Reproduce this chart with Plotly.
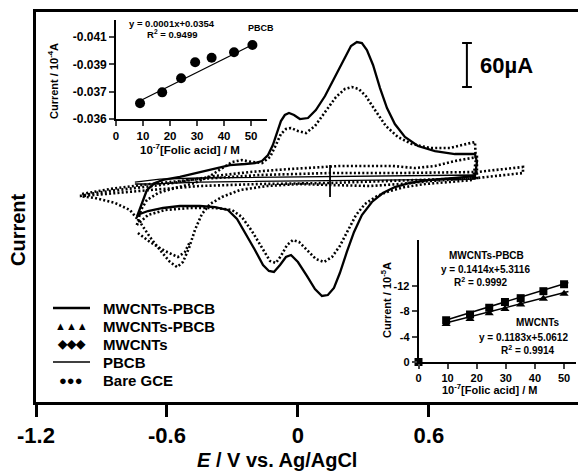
import plotly.graph_objects as go

# ---------------- data: main CV curves (E in V vs Ag/AgCl, current in µA) ----------------
E_mwpbcb = [-0.738,-0.719,-0.692,-0.655,-0.618,-0.541,-0.463,-0.380,-0.312,-0.243,-0.197,-0.165,-0.137,-0.115,-0.096,-0.078,-0.060,-0.041,-0.018,0.009,0.046,0.082,0.124,0.169,0.211,0.243,0.270,0.293,0.316,0.344,0.376,0.408,0.444,0.490,0.550,0.628,0.719,0.811,0.820,0.811,
            0.719,0.605,0.513,0.444,0.389,0.339,0.293,0.257,0.224,0.192,0.165,0.137,0.110,0.078,0.041,0.000,-0.032,-0.055,-0.082,-0.110,-0.133,-0.160,-0.197,-0.238,-0.279,-0.321,-0.380,-0.449,-0.541,-0.618,-0.687,-0.724,-0.738]
I_mwpbcb = [-49.1,-32.7,-12.3,-2.7,1.4,5.5,10.9,16.4,21.8,23.2,24.5,27.3,35.5,49.1,65.5,81.8,90.0,92.7,90.0,84.5,85.9,96.8,115.9,141.8,167.7,184.1,189.5,188.2,178.6,158.2,126.8,99.5,77.7,60.0,47.7,40.9,36.8,36.8,25.9,6.8,
            4.1,1.4,-2.7,-8.2,-16.4,-28.6,-46.4,-69.5,-96.8,-125.5,-145.9,-155.5,-156.8,-147.3,-129.5,-110.5,-100.9,-103.6,-114.5,-124.1,-122.7,-114.5,-94.1,-72.3,-51.8,-39.5,-35.5,-34.1,-34.1,-36.8,-40.9,-45.0,-49.1]

E_mwpbcb_tri = [-0.738,-0.719,-0.692,-0.641,-0.563,-0.472,-0.403,-0.348,-0.302,-0.257,-0.211,-0.165,-0.128,-0.101,-0.078,-0.055,-0.032,0.000,0.037,0.078,0.124,0.174,0.215,0.247,0.279,0.311,0.353,0.403,0.458,0.522,0.605,0.696,0.811,0.815,0.802,
                0.696,0.582,0.490,0.421,0.362,0.307,0.266,0.229,0.192,0.156,0.119,0.082,0.041,0.005,-0.023,-0.050,-0.078,-0.101,-0.128,-0.165,-0.211,-0.257,-0.302,-0.380,-0.495,-0.609,-0.687,-0.738]
I_mwpbcb_tri = [-60.0,-39.5,-25.9,-16.4,-9.5,-2.7,6.8,17.7,25.9,28.6,25.9,24.5,32.7,49.1,64.1,70.9,72.3,68.2,65.5,75.0,94.1,114.5,125.5,128.2,125.5,115.9,96.8,75.0,60.0,50.5,45.0,45.0,53.2,28.6,1.4,
                -1.4,-4.1,-8.2,-13.6,-20.5,-31.4,-46.4,-66.8,-88.6,-103.6,-110.5,-106.4,-94.1,-83.2,-80.5,-87.3,-102.3,-111.8,-109.1,-91.4,-68.2,-49.1,-39.5,-36.8,-36.8,-39.5,-46.4,-60.0]

E_mwcnt = [-0.999,-0.930,-0.861,-0.747,-0.632,-0.518,-0.380,-0.220,-0.037,0.192,0.435,0.536,0.628,0.719,0.820,0.820,
           0.605,0.467,0.330,0.147,0.009,-0.142,-0.266,-0.348,-0.403,-0.440,-0.472,-0.499,-0.527,-0.554,-0.586,-0.632,-0.678,-0.724,-0.770,-0.838,-0.930,-0.999,
           None,-0.733,-0.678,-0.609,-0.550,-0.518,-0.495]
I_mwcnt = [-20.5,-16.4,-13.6,-9.5,-5.5,0.0,6.8,12.3,16.4,20.5,20.5,17.7,20.5,27.3,32.7,4.1,
           0.0,-4.1,-6.8,-5.5,-4.1,-6.8,-12.3,-21.8,-31.4,-45.0,-66.8,-91.4,-110.5,-117.3,-110.5,-94.1,-76.4,-55.9,-39.5,-30.0,-23.2,-20.5,
           None,-70.9,-83.2,-95.5,-103.6,-96.8,-83.2]

E_pbcb = [-0.747,-0.632,-0.449,0.009,0.467,0.811,0.811,0.467,0.009,-0.449,-0.678,-0.747]
I_pbcb = [-1.4,2.7,4.1,5.5,6.8,8.2,2.7,1.4,0.0,-1.4,-4.1,-4.1]

E_bare = [-0.989,-0.861,-0.678,-0.449,-0.174,0.147,0.467,0.820,1.031,1.031,0.820,0.467,0.147,-0.174,-0.449,-0.678,-0.861,-0.989]
I_bare = [-17.7,-10.9,-4.1,2.7,8.2,10.9,10.9,12.3,19.1,10.9,4.1,0.0,-2.7,-4.1,-6.8,-12.3,-17.7,-20.5]

x_ticks = [-1.2, -0.6, 0, 0.6]
x_ticktext = ["-1.2", "-0.6", "0", "0.6"]

# ---------------- inset 1 (PBCB) ----------------
conc_pbcb = [8.9, 17.1, 24.1, 29.3, 35.4, 43.7, 50.5]
cur_pbcb = [-0.03615, -0.03695, -0.03798, -0.03915, -0.03948, -0.03988, -0.04041]
fit_pbcb_x = [9.5, 50.3]
fit_pbcb_y = [-0.03639, -0.04041]
ins1_yticks = [-0.041, -0.039, -0.037, -0.035]
ins1_yticktext = ["-0.041", "-0.039", "-0.037", "-0.036"]
ins1_xticks = [0, 10, 20, 30, 40, 50]

# ---------------- inset 2 ----------------
conc2 = [9.5, 17.7, 24.3, 29.7, 35.1, 42.9, 50.0]
cur_mwpbcb = [-6.6, -7.5, -8.6, -9.5, -10.1, -11.2, -12.3]
cur_mwcnt = [-6.0, -6.8, -7.7, -8.4, -9.1, -10.0, -10.8]
fit2a_x = [9.0, 51.5]
fit2a_y = [-6.58, -12.59]
fit2b_x = [9.0, 51.5]
fit2b_y = [-6.13, -11.15]
ins2_yticks = [0, -4, -8, -12]
ins2_yticktext = ["0", "-4", "-8", "-12"]

FONT = "Arial, Liberation Sans, sans-serif"

def X(px):
    return (px - 36) / 542

def Y(py):
    return (402 - py) / 390

fig = go.Figure()

dotline = dict(color="black", width=2.6, dash="2px,2.2px")

fig.add_trace(go.Scatter(x=E_bare, y=I_bare, mode="lines", line=dotline, name="Bare GCE", xaxis="x", yaxis="y"))
fig.add_trace(go.Scatter(x=E_pbcb, y=I_pbcb, mode="lines", line=dict(color="black", width=1.3), name="PBCB"))
fig.add_trace(go.Scatter(x=E_mwcnt, y=I_mwcnt, mode="lines", line=dotline, name="MWCNTs", connectgaps=False))
fig.add_trace(go.Scatter(x=E_mwpbcb_tri, y=I_mwpbcb_tri, mode="lines", line=dotline, name="MWCNTs-PBCB (dotted)"))
fig.add_trace(go.Scatter(x=E_mwpbcb, y=I_mwpbcb, mode="lines", line=dict(color="black", width=2.3), name="MWCNTs-PBCB"))

# inset 1
fig.add_trace(go.Scatter(x=fit_pbcb_x, y=fit_pbcb_y, mode="lines", line=dict(color="black", width=1.3),
                         xaxis="x2", yaxis="y2", showlegend=False))
fig.add_trace(go.Scatter(x=conc_pbcb, y=cur_pbcb, mode="markers", marker=dict(color="black", size=10),
                         xaxis="x2", yaxis="y2", showlegend=False))
# inset 2
fig.add_trace(go.Scatter(x=fit2a_x, y=fit2a_y, mode="lines", line=dict(color="black", width=1.6),
                         xaxis="x3", yaxis="y3", showlegend=False))
fig.add_trace(go.Scatter(x=fit2b_x, y=fit2b_y, mode="lines", line=dict(color="black", width=1.6),
                         xaxis="x3", yaxis="y3", showlegend=False))
fig.add_trace(go.Scatter(x=conc2, y=cur_mwpbcb, mode="markers", marker=dict(color="black", size=8, symbol="square"),
                         xaxis="x3", yaxis="y3", showlegend=False))
fig.add_trace(go.Scatter(x=conc2, y=cur_mwcnt, mode="markers", marker=dict(color="black", size=8, symbol="triangle-up"),
                         xaxis="x3", yaxis="y3", showlegend=False))
fig.add_trace(go.Scatter(x=[0], y=[0], mode="markers", marker=dict(color="black", size=8, symbol="square"),
                         xaxis="x3", yaxis="y3", showlegend=False, cliponaxis=False))

tickfont_main = dict(family=FONT, size=22, color="black", weight="bold")
tf_small = dict(family=FONT, size=11.5, color="black", weight="bold")

fig.update_layout(
    width=580, height=471,
    margin=dict(l=36, r=2, t=12, b=69),
    paper_bgcolor="white", plot_bgcolor="rgba(0,0,0,0)",
    showlegend=False,
    font=dict(family=FONT, color="black"),
    xaxis=dict(range=[-1.2, 1.283], domain=[0, 1], showline=True, linewidth=2.6, linecolor="black", mirror=True,
               ticks="outside", ticklen=12, tickwidth=2.6, tickcolor="black",
               tickvals=x_ticks, ticktext=x_ticktext, tickfont=tickfont_main, showgrid=False, zeroline=False),
    yaxis=dict(range=[-301.4, 230.5], domain=[0, 1], showline=True, linewidth=2.6, linecolor="black",
               showticklabels=False, ticks="", showgrid=False, zeroline=False),
    xaxis2=dict(domain=[X(116), X(267)], anchor="y2", range=[0, 55.9], showline=True, linewidth=1.6,
                linecolor="black", ticks="outside", ticklen=5, tickwidth=1.6, tickvals=ins1_xticks,
                tickfont=tf_small, showgrid=False, zeroline=False),
    yaxis2=dict(domain=[Y(119), Y(20)], anchor="x2", range=[-0.035, -0.04224], showline=True, linewidth=1.6,
                linecolor="black", ticks="outside", ticklen=5, tickwidth=1.6, tickvals=ins1_yticks,
                ticktext=ins1_yticktext, tickfont=dict(family=FONT, size=12, color="black", weight="bold"),
                showgrid=False, zeroline=False),
    xaxis3=dict(domain=[X(418.5), X(576)], anchor="y3", range=[0, 54.1], showline=True, linewidth=1.6,
                linecolor="black", ticks="outside", ticklen=5, tickwidth=1.6, tickvals=ins1_xticks,
                tickfont=dict(family=FONT, size=11, color="black", weight="bold"), showgrid=False, zeroline=False),
    yaxis3=dict(domain=[Y(362), Y(240)], anchor="x3", range=[0, -19.3], showline=True, linewidth=1.6,
                linecolor="black", ticks="outside", ticklen=5, tickwidth=1.6, tickvals=ins2_yticks,
                ticktext=ins2_yticktext, tickfont=dict(family=FONT, size=11, color="black", weight="bold"),
                showgrid=False, zeroline=False),
)

ann = []
def txt(px, py, s, size, xanchor="center", textangle=0, yanchor="middle"):
    ann.append(dict(x=X(px), y=Y(py), xref="paper", yref="paper", text=s, showarrow=False,
                    xanchor=xanchor, yanchor=yanchor, textangle=textangle,
                    font=dict(family=FONT, size=size, color="black", weight="bold")))

# main axis titles
txt(277, 460, "<i>E</i> / V vs. Ag/AgCl", 20)
txt(18, 230, "Current", 20, textangle=-90)
# scale bar label
txt(478, 66, "60µA", 22, xanchor="left")
# inset 1 texts
txt(53, 81, "Current / 10<sup>-4</sup>A", 11, textangle=-90)
txt(190, 149, "10<sup>-7</sup>[Folic acid] / M", 11.5)
txt(127, 23, "y = 0.0001x+0.0354", 9.5, xanchor="left")
txt(145, 34, "R<sup>2</sup> = 0.9499", 9.5, xanchor="left")
txt(261, 28, "PBCB", 9)
# inset 2 texts
txt(386, 300, "Current / 10<sup>-5</sup>A", 11, textangle=-90)
txt(490, 389, "10<sup>-7</sup>[Folic acid] / M", 11)
txt(486, 255, "MWCNTs-PBCB", 10)
txt(485, 269, "y = 0.1414x+5.3116", 10)
txt(481, 282, "R<sup>2</sup> = 0.9992", 10)
txt(538, 322, "MWCNTs", 10)
txt(523, 337, "y = 0.1183x+5.0612", 10)
txt(528, 350, "R<sup>2</sup> = 0.9914", 10)

# legend
rows = [308, 326, 344, 362, 380]
labels = ["MWCNTs-PBCB", "MWCNTs-PBCB", "MWCNTs", "PBCB", "Bare GCE"]
for r, lab in zip(rows, labels):
    txt(101, r, lab, 15, xanchor="left")
txt(71, rows[1], "▲▲▲", 11)
txt(71, rows[2], "◆◆◆", 12)
txt(71, rows[4], "●●●", 13)

shapes = [
    dict(type="line", xref="paper", yref="paper", x0=X(53), x1=X(90), y0=Y(rows[0]), y1=Y(rows[0]),
         line=dict(color="black", width=2.6)),
    dict(type="line", xref="paper", yref="paper", x0=X(53), x1=X(90), y0=Y(rows[3]), y1=Y(rows[3]),
         line=dict(color="black", width=1.3)),
    # scale bar (60 µA)
    dict(type="line", xref="x", yref="y", x0=0.774, x1=0.774, y0=128.2, y1=188.2, line=dict(color="black", width=2)),
    dict(type="line", xref="x", yref="y", x0=0.752, x1=0.797, y0=188.2, y1=188.2, line=dict(color="black", width=2)),
    dict(type="line", xref="x", yref="y", x0=0.752, x1=0.797, y0=128.2, y1=128.2, line=dict(color="black", width=2)),
    # vertical marker through baseline
    dict(type="line", xref="x", yref="y", x0=0.147, x1=0.147, y0=-21.8, y1=21.8, line=dict(color="black", width=1.8)),
]
fig.update_layout(annotations=ann, shapes=shapes)

fig.write_html("out.html")
